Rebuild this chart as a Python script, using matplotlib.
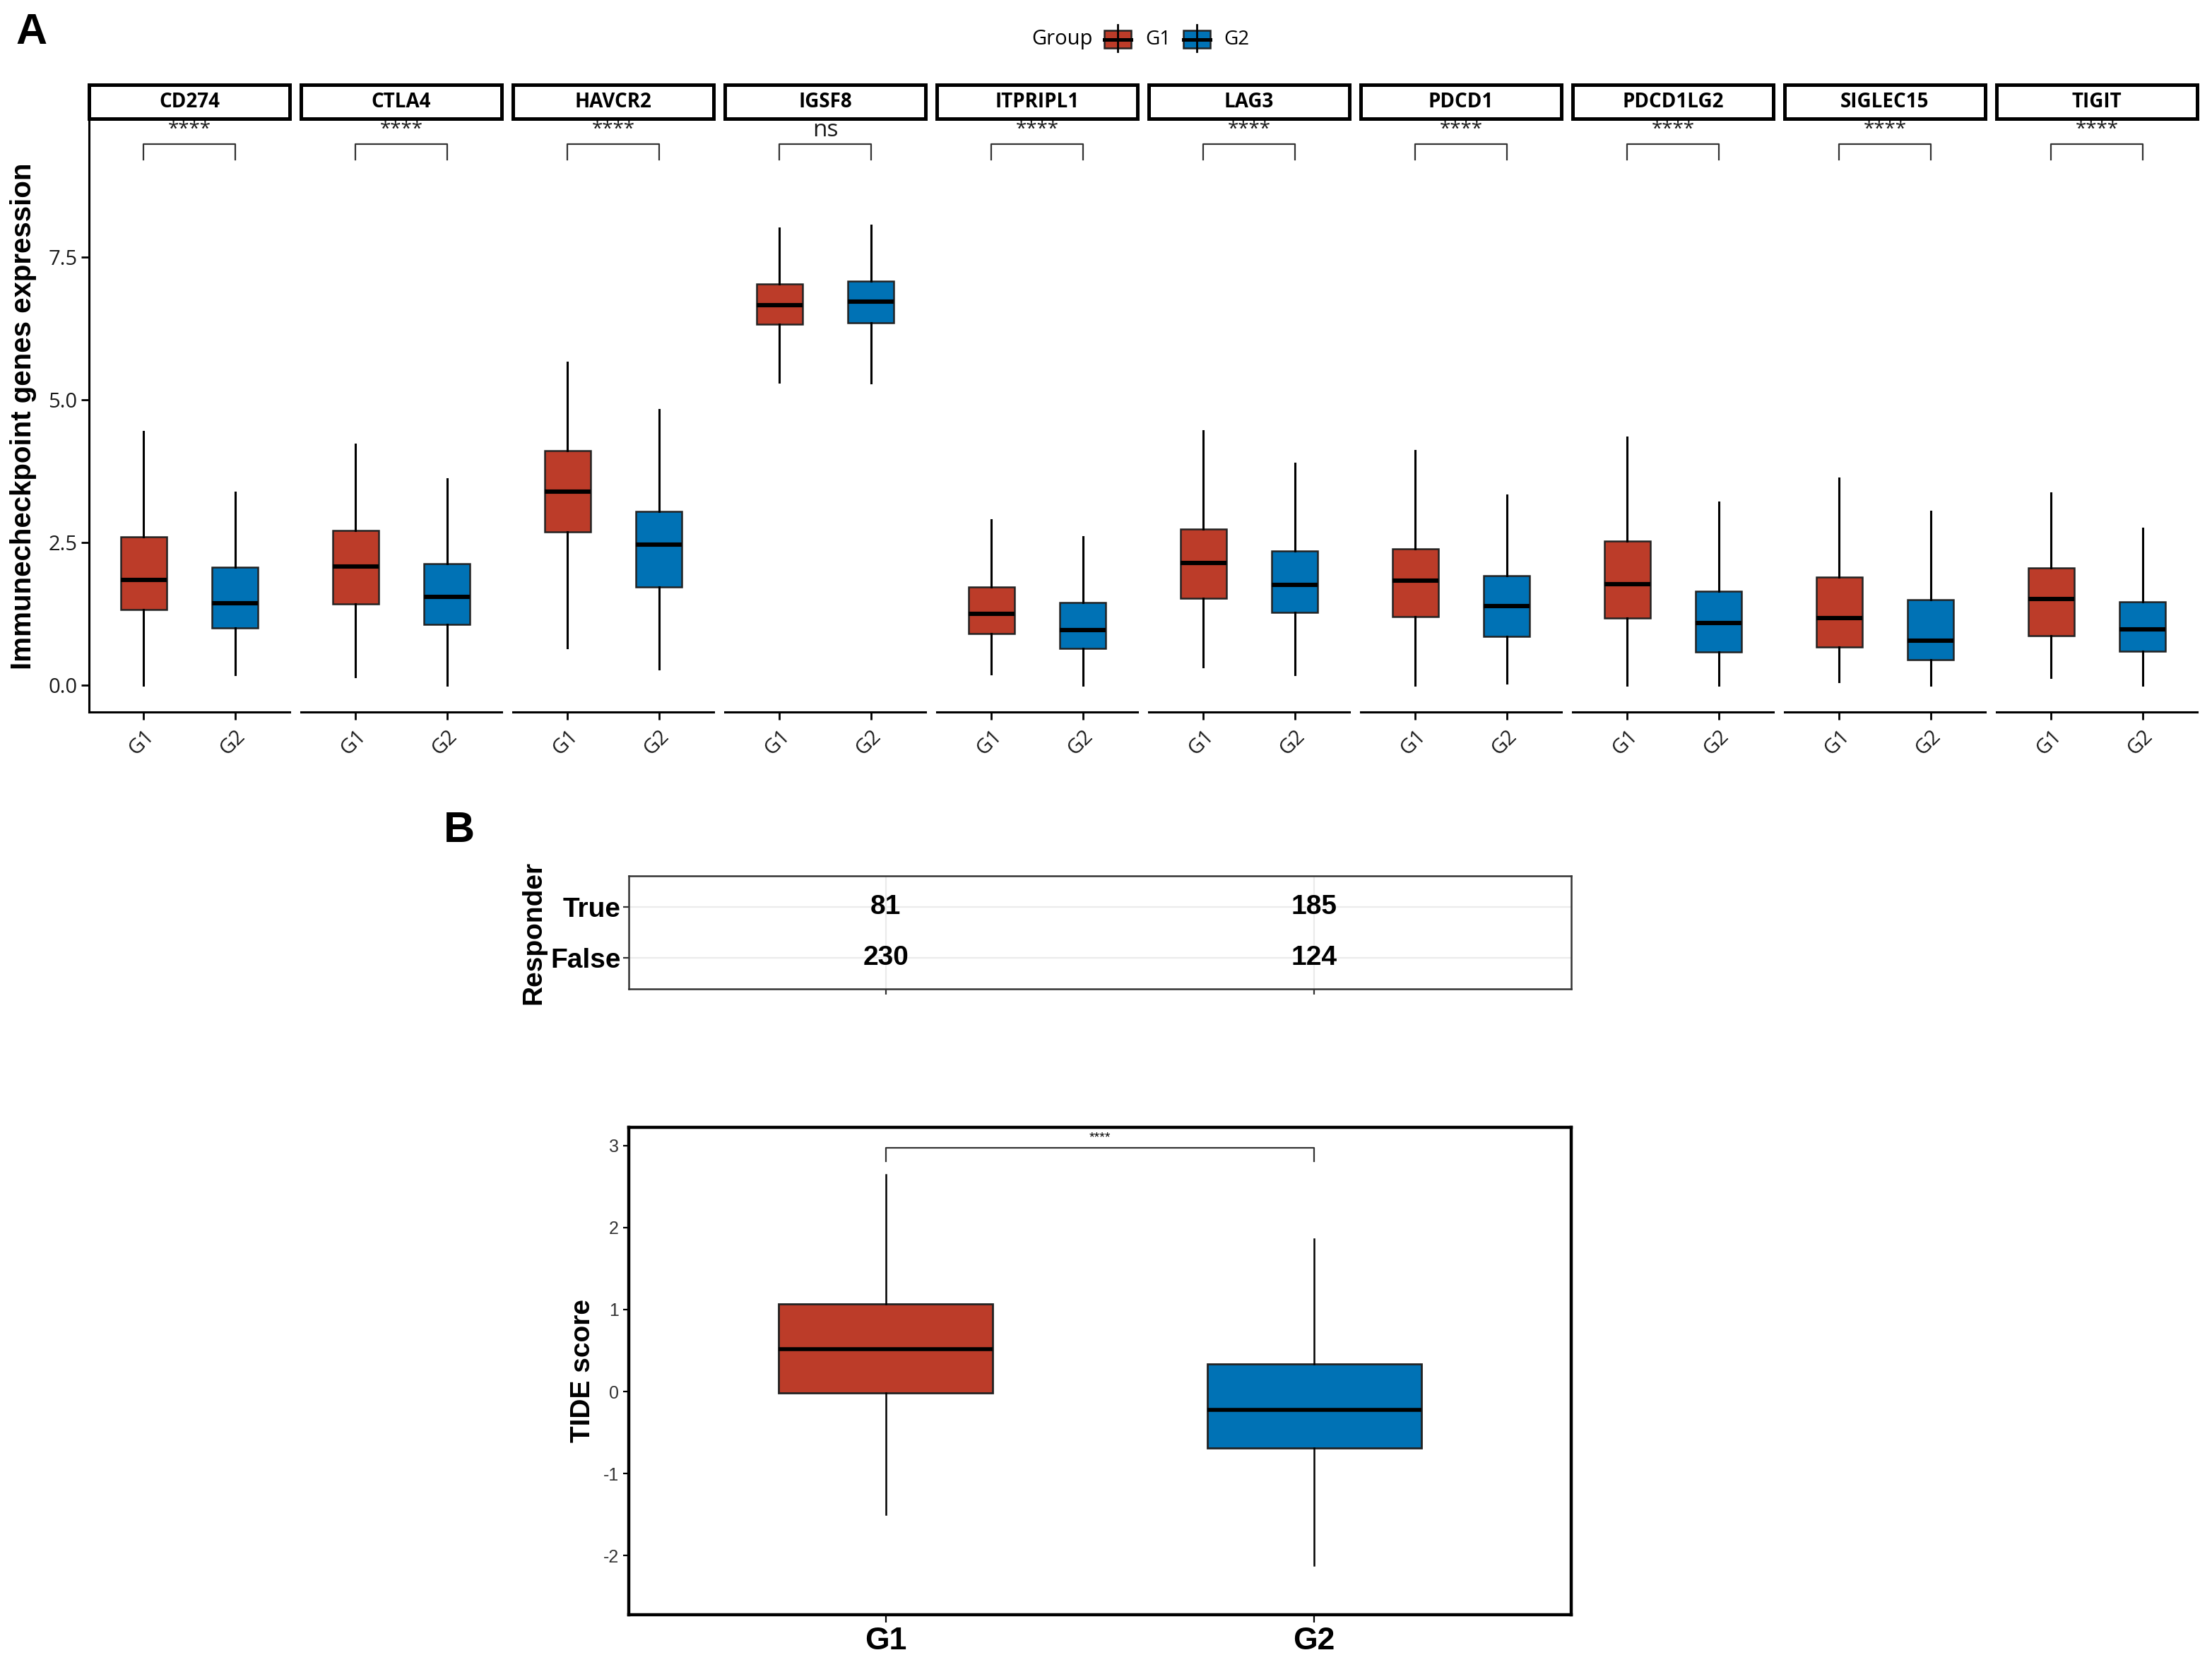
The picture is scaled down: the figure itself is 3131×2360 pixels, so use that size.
import numpy as np
import matplotlib.pyplot as plt
from matplotlib import font_manager
from matplotlib.patches import Rectangle

# ---- data ----
genes = ['CD274', 'CTLA4', 'HAVCR2', 'IGSF8', 'ITPRIPL1', 'LAG3',
         'PDCD1', 'PDCD1LG2', 'SIGLEC15', 'TIGIT']
signif = ['****', '****', '****', 'ns', '****', '****', '****', '****', '****', '****']
groups = ['G1', 'G2']

g1_low = [0.00, 0.15, 0.65, 5.31, 0.20, 0.32, 0.00, 0.00, 0.06, 0.14]
g1_q1 = [1.32, 1.42, 2.68, 6.32, 0.90, 1.52, 1.20, 1.18, 0.67, 0.87]
g1_med = [1.85, 2.08, 3.39, 6.66, 1.25, 2.14, 1.83, 1.77, 1.18, 1.51]
g1_q3 = [2.60, 2.71, 4.11, 7.03, 1.72, 2.73, 2.39, 2.53, 1.89, 2.05]
g1_high = [4.44, 4.22, 5.66, 8.01, 2.90, 4.46, 4.11, 4.34, 3.63, 3.36]

g2_low = [0.19, 0.00, 0.29, 5.30, 0.00, 0.19, 0.04, 0.00, 0.00, 0.00]
g2_q1 = [1.00, 1.06, 1.72, 6.35, 0.64, 1.27, 0.86, 0.58, 0.44, 0.59]
g2_med = [1.44, 1.55, 2.46, 6.72, 0.97, 1.76, 1.39, 1.09, 0.78, 0.98]
g2_q3 = [2.07, 2.13, 3.04, 7.08, 1.45, 2.35, 1.92, 1.64, 1.50, 1.46]
g2_high = [3.38, 3.61, 4.83, 8.05, 2.60, 3.89, 3.33, 3.21, 3.05, 2.75]

responder_levels = ['False', 'True']
counts_g1 = [230, 81]
counts_g2 = [124, 185]

tide_low = [-1.50, -2.12]
tide_q1 = [-0.02, -0.69]
tide_med = [0.52, -0.22]
tide_q3 = [1.07, 0.34]
tide_high = [2.64, 1.86]
tide_signif = '****'

colors = ['#BC3C29', '#0072B5']

# ---- fonts ----
available = {f.name for f in font_manager.fontManager.ttflist}
narrow = 'Liberation Sans Narrow' if 'Liberation Sans Narrow' in available else 'Liberation Sans'
arial = 'Liberation Sans'
opens = 'Open Sans'

W, H = 3131, 2360
DPI = 200
fig = plt.figure(figsize=(W / DPI, H / DPI), dpi=DPI)


def px_axes(x0, y0, x1, y1):
    return fig.add_axes([x0 / W, 1 - y1 / H, (x1 - x0) / W, (y1 - y0) / H])


def make_stats(low, q1, med, q3, high, i):
    return [dict(whislo=low[i], q1=q1[i], med=med[i], q3=q3[i], whishi=high[i], fliers=[])]


def draw_box(ax, stats, pos, color, width=0.5, edge_lw=0.9, med_lw=2.2, wh_lw=1.1):
    bp = ax.bxp(stats, positions=[pos], widths=width, showfliers=False, showcaps=False,
                patch_artist=True,
                boxprops=dict(facecolor=color, edgecolor='#222222', linewidth=edge_lw),
                medianprops=dict(color='black', linewidth=med_lw, solid_capstyle='butt'),
                whiskerprops=dict(color='black', linewidth=wh_lw))
    return bp


# ---- panel A: faceted boxplots ----
left0, facet_w, gap = 126, 284, 16
top_a, bot_a = 170, 1008
for i, gene in enumerate(genes):
    x0 = left0 + i * (facet_w + gap)
    ax = px_axes(x0, top_a, x0 + facet_w, bot_a)
    draw_box(ax, make_stats(g1_low, g1_q1, g1_med, g1_q3, g1_high, i), 1, colors[0])
    draw_box(ax, make_stats(g2_low, g2_q1, g2_med, g2_q3, g2_high, i), 2, colors[1])
    ax.set_xlim(0.4, 2.6)
    ax.set_ylim(-0.47, 9.9)
    for s in ['top', 'right']:
        ax.spines[s].set_visible(False)
    ax.spines['bottom'].set_linewidth(1.1)
    ax.set_xticks([1, 2])
    ax.set_xticklabels(groups, rotation=45, ha='right', va='top', rotation_mode='anchor',
                       fontfamily=opens, fontsize=10.5, color='#1a1a1a')
    ax.tick_params(axis='x', length=4, width=1.0, pad=3)
    if i == 0:
        ax.spines['left'].set_linewidth(1.1)
        ax.set_yticks([0, 2.5, 5.0, 7.5])
        ax.set_yticklabels(['0.0', '2.5', '5.0', '7.5'], fontfamily=opens, fontsize=10.5,
                           color='#1a1a1a')
        ax.tick_params(axis='y', length=4, width=1.0, pad=2)
        ax.set_ylabel('Immunecheckpoint genes expression', fontfamily=arial,
                      fontweight='bold', fontsize=14.5, labelpad=6)
    else:
        ax.spines['left'].set_visible(False)
        ax.tick_params(axis='y', left=False, labelleft=False)
    # significance bracket
    ax.plot([1, 1, 2, 2], [9.21, 9.48, 9.48, 9.21], color='#333333', lw=0.8)
    if signif[i] == 'ns':
        ax.text(1.5, 9.52, signif[i], ha='center', va='bottom', fontfamily=opens,
                fontsize=12, color='#1a1a1a')
    else:
        ax.text(1.5, 9.56, signif[i], ha='center', va='bottom', fontfamily=opens,
                fontsize=10, color='#1a1a1a')
    # strip
    sax = px_axes(x0, 120, x0 + facet_w, 168)
    sax.set_xticks([])
    sax.set_yticks([])
    for s in sax.spines.values():
        s.set_linewidth(1.8)
    sax.text(0.5, 0.5, gene, ha='center', va='center', fontfamily=opens,
             fontweight='bold', fontsize=10, transform=sax.transAxes)

# legend
lax = px_axes(1440, 20, 1800, 90)
lax.set_xlim(1440, 1800)
lax.set_ylim(90, 20)
lax.axis('off')
lax.text(1460, 56, 'Group', ha='left', va='center', fontfamily=opens, fontsize=10.5)
for kx, tx, c, g in [(1563, 1621, colors[0], 'G1'), (1675, 1732, colors[1], 'G2')]:
    lax.plot([kx + 19, kx + 19], [35, 73], color='black', lw=1.0)
    lax.add_patch(Rectangle((kx, 43), 38, 25, facecolor=c, edgecolor='#222222', lw=0.9))
    lax.plot([kx, kx + 38], [55.5, 55.5], color='black', lw=1.8)
    lax.text(tx, 56, g, ha='left', va='center', fontfamily=opens, fontsize=10)

fig.text(22 / W, 1 - 46 / H, 'A', fontfamily=arial, fontweight='bold', fontsize=22,
         ha='left', va='center')
fig.text(628 / W, 1 - 1176 / H, 'B', fontfamily=arial, fontweight='bold', fontsize=22,
         ha='left', va='center')

# ---- panel B: responder table ----
tax = px_axes(890, 1240, 2224, 1400)
tax.set_xlim(0.4, 2.6)
tax.set_ylim(0.4, 2.6)
tax.set_xticks([1, 2])
tax.set_xticklabels([])
tax.set_yticks([1, 2])
tax.set_yticklabels(responder_levels, fontfamily=narrow, fontweight='bold', fontsize=14,
                    color='black')
tax.tick_params(length=3, width=0.8, color='#333333', pad=1)
tax.grid(True, color='#EBEBEB', lw=0.8)
tax.set_axisbelow(True)
for s in tax.spines.values():
    s.set_linewidth(0.9)
    s.set_color('#333333')
for j, lvl in enumerate(responder_levels):
    tax.text(1, j + 1, str(counts_g1[j]), ha='center', va='center', fontfamily=narrow,
             fontweight='bold', fontsize=14)
    tax.text(2, j + 1, str(counts_g2[j]), ha='center', va='center', fontfamily=narrow,
             fontweight='bold', fontsize=14)
tax.set_ylabel('Responder', fontfamily=arial, fontweight='bold', fontsize=14, labelpad=2)

# ---- panel B: TIDE score ----
bax = px_axes(890, 1596, 2224, 2286)
for k in range(2):
    draw_box(bax, make_stats(tide_low, tide_q1, tide_med, tide_q3, tide_high, k), k + 1,
             colors[k], edge_lw=1.0, med_lw=2.0, wh_lw=0.9)
bax.set_xlim(0.4, 2.6)
bax.set_ylim(-2.72, 3.22)
bax.set_xticks([1, 2])
bax.set_xticklabels(groups, fontfamily=narrow, fontweight='bold', fontsize=16, color='black')
bax.set_yticks([-2, -1, 0, 1, 2, 3])
bax.set_yticklabels(['-2', '-1', '0', '1', '2', '3'], fontfamily=narrow, fontsize=9,
                    color='#333333')
bax.tick_params(axis='y', length=3, width=0.8, pad=2)
bax.tick_params(axis='x', length=4, width=0.8, pad=2)
for s in bax.spines.values():
    s.set_linewidth(1.6)
bax.plot([1, 1, 2, 2], [2.81, 2.97, 2.97, 2.81], color='#333333', lw=0.8)
bax.text(1.5, 3.02, tide_signif, ha='center', va='bottom', fontfamily=narrow, fontsize=7)
bax.set_ylabel('TIDE score', fontfamily=arial, fontweight='bold', fontsize=14, labelpad=4)

fig.savefig('out.png', dpi=DPI)
